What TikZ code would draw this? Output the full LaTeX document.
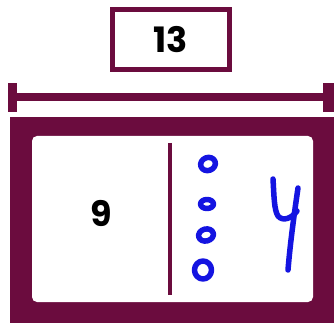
\documentclass[tikz,border=0pt]{standalone}
\usepackage{fontspec}
\setmainfont{Poppins}
\definecolor{maroon}{RGB}{107,12,62}
\definecolor{ink}{RGB}{20,20,225}
\tikzset{
  frame/.style={draw=maroon, line width=5pt},
  numtext/.style={font=\fontsize{35}{35}\selectfont\bfseries, text=black},
  pen/.style={draw=ink, line width=5.5pt, line cap=round, line join=round},
  bar/.style={draw=maroon, line width=8pt},
}
\begin{document}
\begin{tikzpicture}[x=1pt,y=-1pt]
\useasboundingbox (0,0) rectangle (334,323);
% top total box
\node[frame, minimum width=117pt, minimum height=60pt, inner sep=0pt, numtext] (total) at (171,39.5) {13};
% bar with end caps
\coordinate (barL) at (13,97.5);
\coordinate (barR) at (328,97.5);
\draw[bar] (barL) -- (barR);
\fill[maroon] (8,83) rectangle (17,112);
\fill[maroon] (323,83) rectangle (334,112);
% outer frame
\fill[maroon] (10,117) rectangle (334,323);
\fill[white, rounded corners=5pt] (32,136) rectangle (313,302);
% divider
\coordinate (divT) at (170,143);
\coordinate (divB) at (170,295);
\draw[draw=maroon, line width=4pt] (divT) -- (divB);
% parts
\node[numtext] (part) at (101,213) {9};
% counters
\draw[pen, rotate around={20:(208,164)}] (208,164) ellipse [x radius=7.5pt, y radius=6.5pt];
\draw[pen] (207,204) ellipse [x radius=6.5pt, y radius=4.5pt];
\draw[pen, rotate around={15:(206,235)}] (206,235) ellipse [x radius=7.5pt, y radius=6pt];
\draw[pen] (203,270) ellipse [x radius=8.5pt, y radius=9pt];
% handwritten 4
\draw[pen] (273,179) .. controls (274,195) and (274,210) .. (278,216) .. controls (283,222) and (292,218) .. (297,211);
\draw[pen] (298,188) .. controls (294,215) and (290,245) .. (288,270);
\end{tikzpicture}
\end{document}
